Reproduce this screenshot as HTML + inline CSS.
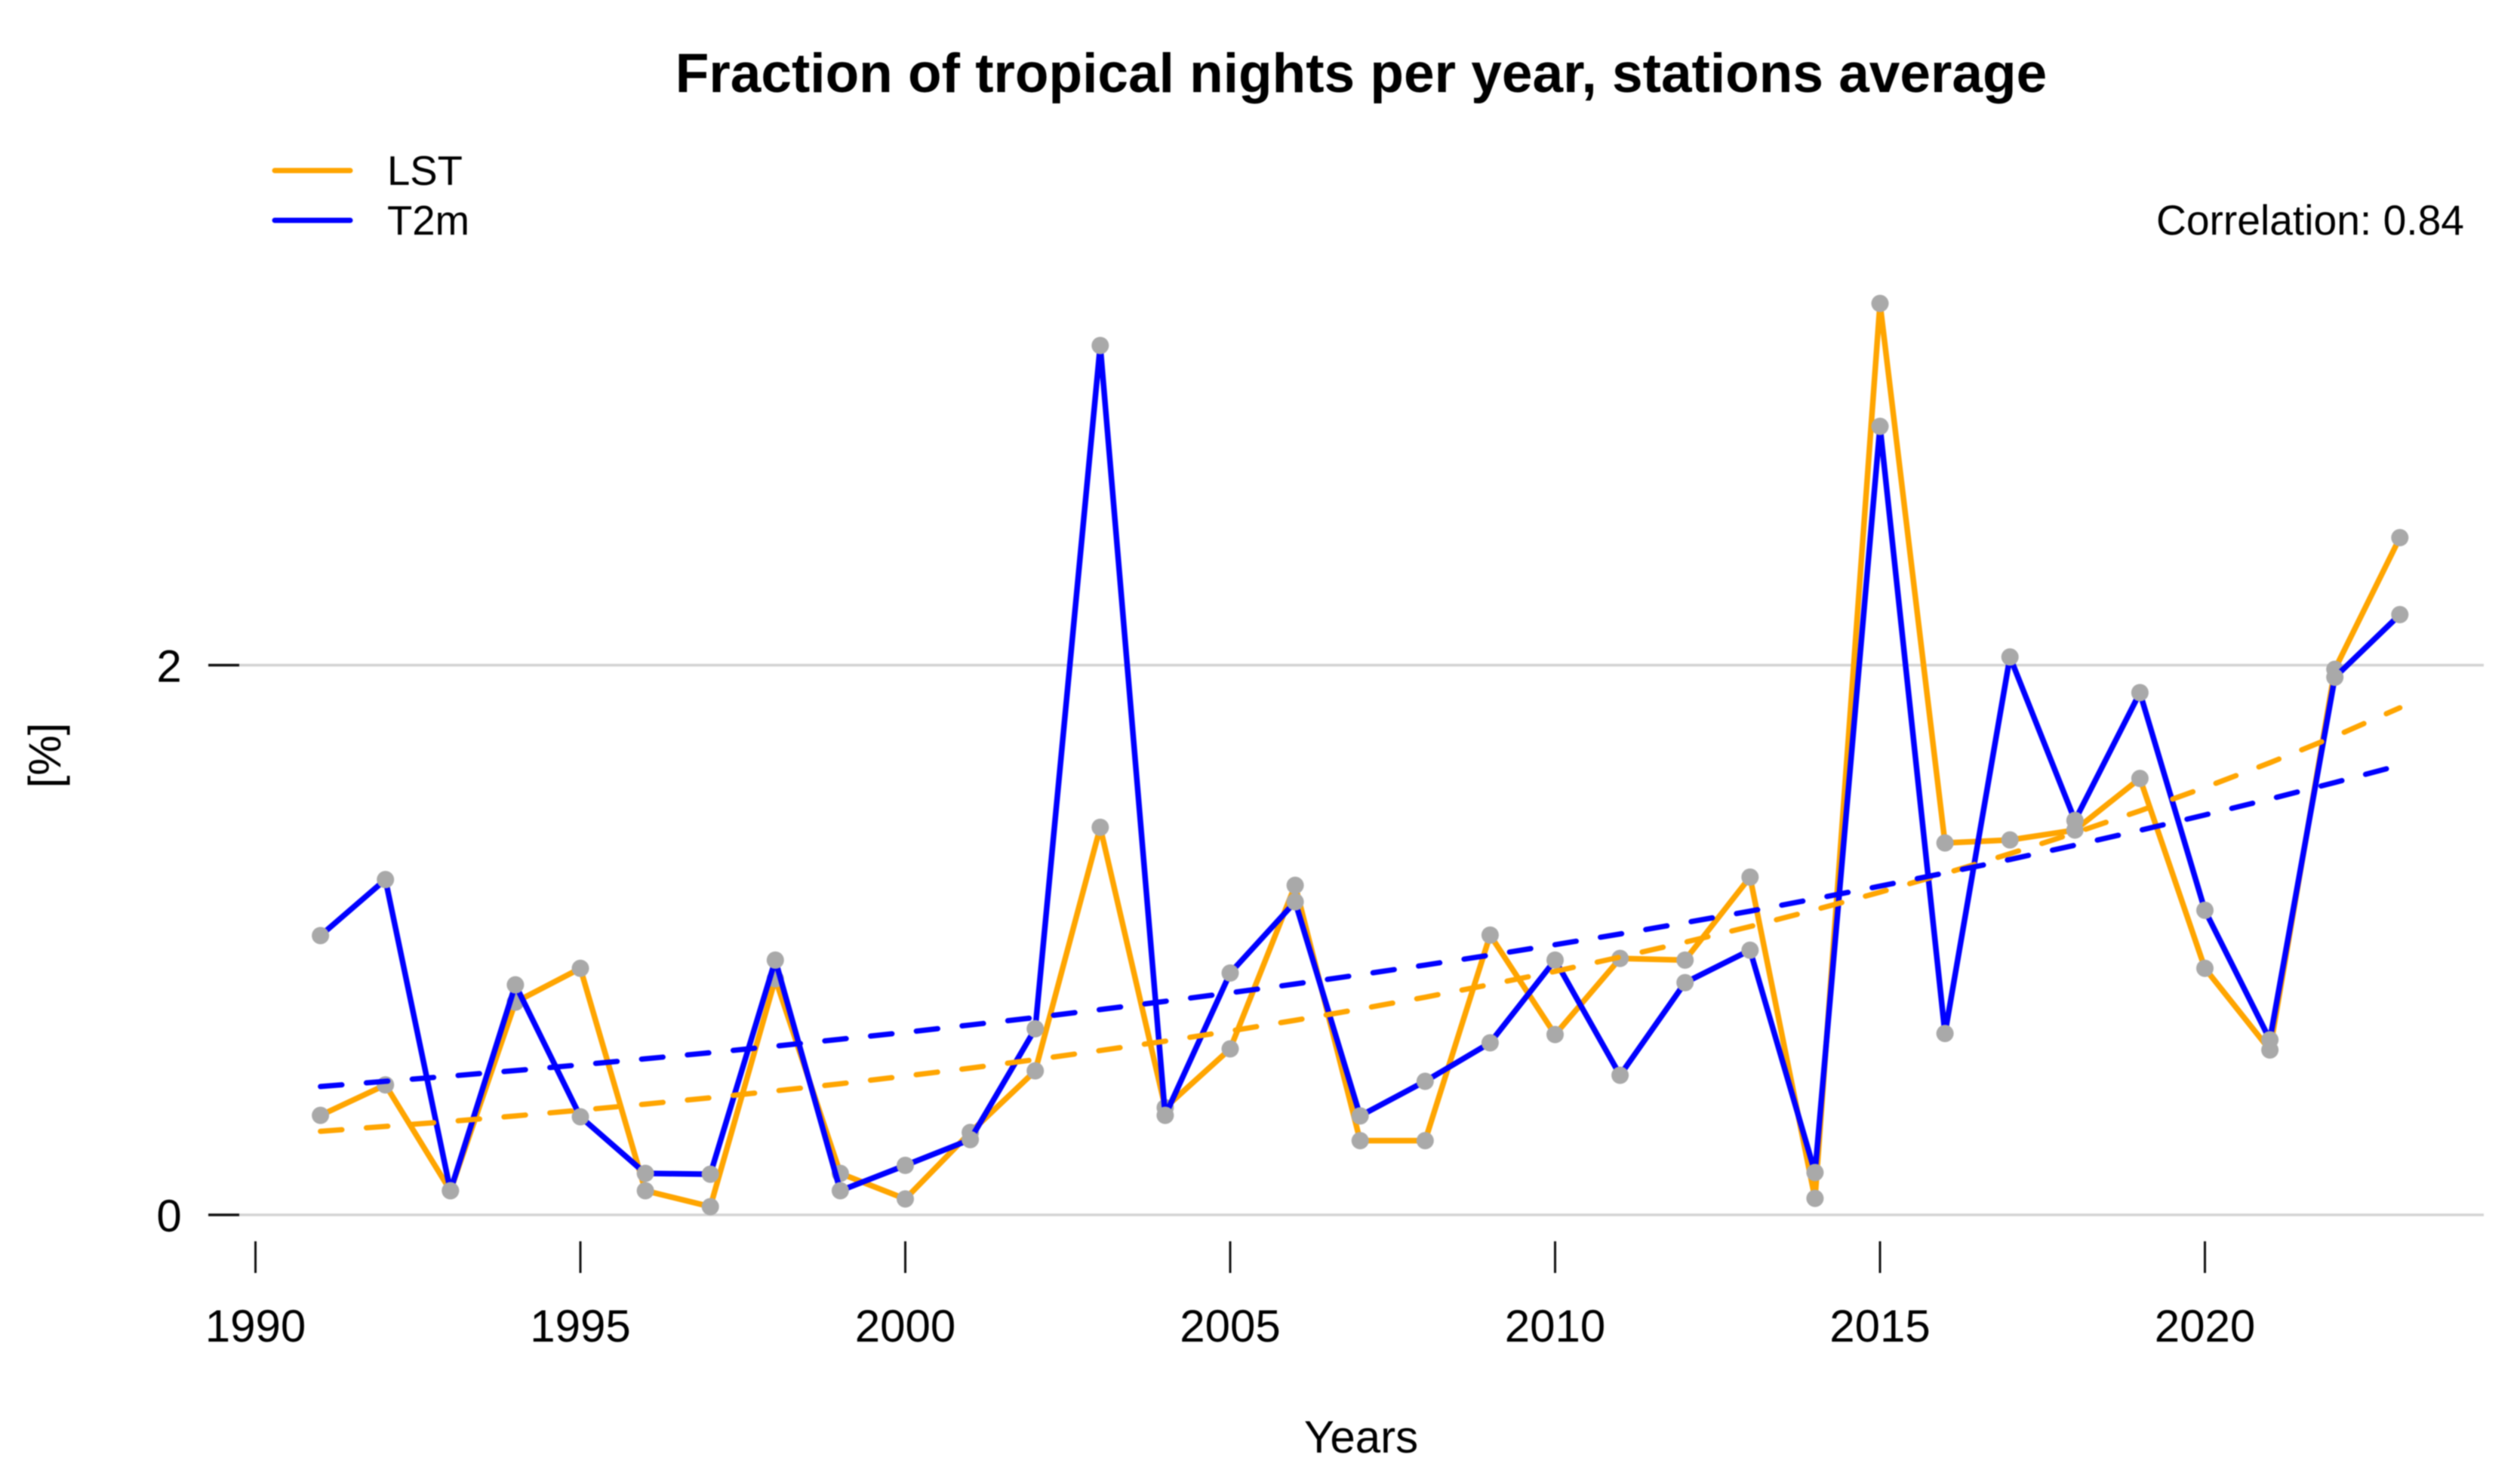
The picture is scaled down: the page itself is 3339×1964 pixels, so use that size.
<!DOCTYPE html>
<html lang="en">
<head>
<meta charset="utf-8">
<title>Fraction of tropical nights per year, stations average</title>
<style>
  html, body { margin: 0; padding: 0; background: #ffffff; }
  body { width: 3339px; height: 1964px; overflow: hidden; }
  svg { display: block; filter: blur(0.7px); }
  text { font-family: "Liberation Sans", Arial, sans-serif; fill: #000000; }
</style>
</head>
<body>
<svg id="chart" xmlns="http://www.w3.org/2000/svg" width="3339" height="1964" viewBox="0 0 3339 1964">
  <rect x="0" y="0" width="3339" height="1964" fill="#ffffff"/>
  <text x="1803.5" y="122" text-anchor="middle" font-size="73" font-weight="700">Fraction of tropical nights per year, stations average</text>
  <g id="grid-layer"></g>
  <g id="axes-layer"></g>
  <g id="series-layer"></g>
  <text x="1803.5" y="1925" text-anchor="middle" font-size="60">Years</text>
  <text x="80" y="1001" text-anchor="middle" font-size="60" transform="rotate(-90 80 1001)">[%]</text>
  <g>
    <g>
      <line x1="364" y1="226" x2="464" y2="226" stroke="#ffa500" stroke-width="7" stroke-linecap="round"/>
      <text x="513" y="245" font-size="54.5">LST</text>
    </g>
    <g>
      <line x1="364" y1="292" x2="464" y2="292" stroke="#0000ff" stroke-width="7" stroke-linecap="round"/>
      <text x="513" y="311" font-size="54.5">T2m</text>
    </g>
  </g>
  <text x="3265" y="311" text-anchor="end" font-size="55.2">Correlation: 0.84</text>
</svg>
<script>
const years = [1991,1992,1993,1994,1995,1996,1997,1998,1999,2000,2001,2002,2003,2004,2005,2006,2007,2008,2009,2010,2011,2012,2013,2014,2015,2016,2017,2018,2019,2020,2021,2022,2023];
const lstValues = [0.362,0.473,0.088,0.774,0.897,0.088,0.030,0.859,0.151,0.058,0.300,0.524,1.410,0.390,0.604,1.199,0.270,0.270,1.018,0.656,0.933,0.927,1.229,0.060,3.316,1.353,1.364,1.400,1.588,0.897,0.600,1.985,2.464];
const t2mValues = [1.016,1.220,0.088,0.837,0.357,0.151,0.148,0.927,0.088,0.180,0.274,0.677,3.163,0.362,0.880,1.139,0.360,0.486,0.626,0.927,0.508,0.845,0.963,0.154,2.869,0.660,2.030,1.435,1.900,1.108,0.637,1.956,2.184];
const lstTrend = [0.304,0.322,0.340,0.360,0.381,0.403,0.426,0.451,0.477,0.505,0.534,0.565,0.598,0.632,0.669,0.708,0.749,0.792,0.838,0.886,0.938,0.992,1.049,1.110,1.174,1.242,1.314,1.390,1.470,1.555,1.645,1.741,1.845];
const t2mTrend = [0.467,0.486,0.505,0.525,0.546,0.568,0.590,0.614,0.639,0.664,0.691,0.718,0.747,0.777,0.808,0.840,0.874,0.909,0.945,0.983,1.022,1.063,1.105,1.150,1.196,1.244,1.293,1.345,1.399,1.455,1.513,1.573,1.636];
const xTickLabels = [1990,1995,2000,2005,2010,2015,2020];
const yTickLabels = [0,2];

const SVG_NS = 'http://www.w3.org/2000/svg';
function xScale(year) { return 338.5 + 86.1 * (year - 1990); }
function yScale(value) { return 1610 - 364.25 * value; }
function make(tag, attrs, parent) {
  const node = document.createElementNS(SVG_NS, tag);
  for (const key in attrs) node.setAttribute(key, attrs[key]);
  parent.appendChild(node);
  return node;
}
function pathFrom(values) {
  return values.map(function (v, i) {
    return (i ? 'L' : 'M') + xScale(years[i]).toFixed(2) + ' ' + yScale(v).toFixed(2);
  }).join(' ');
}

const gridLayer = document.getElementById('grid-layer');
const axesLayer = document.getElementById('axes-layer');
const seriesLayer = document.getElementById('series-layer');

yTickLabels.forEach(function (tick) {
  const y = yScale(tick);
  const grid = make('line', { x1: 317, x2: 3291, y1: y, y2: y, stroke: '#d3d3d3', 'stroke-width': 3.5 }, gridLayer);
  
  
  const mark = make('line', { x1: 276, x2: 317, y1: y, y2: y, stroke: '#111111', 'stroke-width': 3.5 }, axesLayer);
  
  
  const label = make('text', { x: 224, y: y + 22, 'text-anchor': 'middle', 'font-size': 60 }, axesLayer);
  
  
  label.textContent = String(tick);
});

xTickLabels.forEach(function (tick) {
  const x = xScale(tick);
  const mark = make('line', { x1: x, x2: x, y1: 1645, y2: 1687, stroke: '#111111', 'stroke-width': 3 }, axesLayer);
  
  
  const label = make('text', { x: x, y: 1778, 'text-anchor': 'middle', 'font-size': 60 }, axesLayer);
  
  
  label.textContent = String(tick);
});

function drawLine(values, color, seriesName) {
  const line = make('path', { d: pathFrom(values), fill: 'none', stroke: color, 'stroke-width': 7.5, 'stroke-linejoin': 'round', 'stroke-linecap': 'round' }, seriesLayer);
  
  
}
function drawPoints(values, seriesName) {
  values.forEach(function (v, i) {
    const dot = make('circle', { cx: xScale(years[i]), cy: yScale(v), r: 11.5, fill: '#a9a9a9' }, seriesLayer);
    
    
  });
}
function drawTrend(values, color, seriesName) {
  const trend = make('path', { d: pathFrom(values), fill: 'none', stroke: color, 'stroke-width': 7, 'stroke-linecap': 'round', 'stroke-dasharray': '28.5 32.5' }, seriesLayer);
  
  
}

drawLine(lstValues, '#ffa500', 'lst');
drawPoints(lstValues, 'lst');
drawLine(t2mValues, '#0000ff', 't2m');
drawPoints(t2mValues, 't2m');
drawTrend(lstTrend, '#ffa500', 'lst');
drawTrend(t2mTrend, '#0000ff', 't2m');
</script>
</body>
</html>
